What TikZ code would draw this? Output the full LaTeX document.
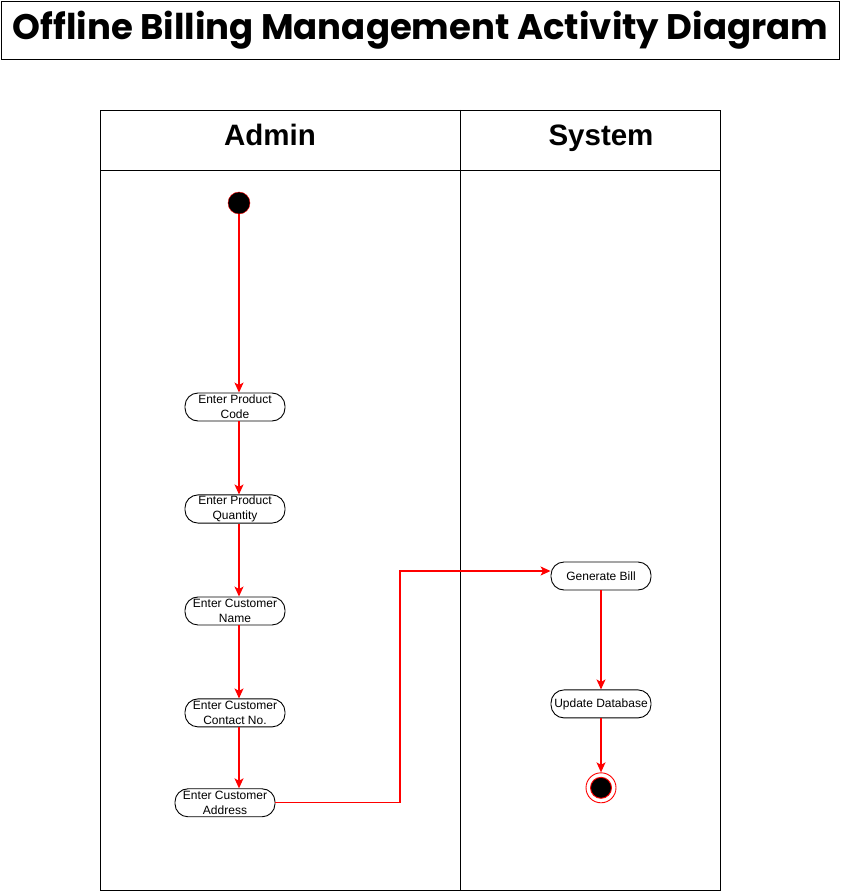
\documentclass[tikz,border=0pt]{standalone}
\usepackage{fontspec}
\setmainfont{Liberation Sans}
\newfontfamily\titlefont{Poppins}
\usetikzlibrary{arrows.meta,positioning}

\begin{document}
\begin{tikzpicture}[x=1pt,y=-1pt,
    act/.style={draw,line width=0.9pt,rounded corners=13pt,minimum width=100pt,minimum height=28pt,inner sep=1pt,align=center,font=\fontsize{12}{15}\selectfont},
    initial/.style={circle,draw=red,fill=black,minimum size=22pt,inner sep=0pt},
    final/.style={circle,draw=red,line width=0.9pt,minimum size=30pt,inner sep=0pt,
        path picture={\fill[black,draw=red] (path picture bounding box.center) circle (10.5pt);}},
    lane/.style={font=\fontsize{29.5}{34}\selectfont\bfseries,text height=21pt,text depth=6pt},
    flow/.style={draw=red,color=red,line width=1.3pt,-{Stealth[length=10pt,width=9pt,inset=2.5pt]}}]
    \useasboundingbox (0,0) rectangle (841,893);

    % title
    \node[draw,line width=1.5pt,minimum width=838pt,minimum height=58pt,inner sep=0pt] (title) at (420.5,30.5)
        {\titlefont\fontsize{35.5}{40}\selectfont\bfseries Offline Billing Management Activity Diagram};

    % swimlanes
    \draw (100,110) rectangle (720,890);
    \draw (100,170) -- (720,170);
    \draw (460,110) -- (460,890);
    \node[lane] (admin) at (270,138) {Admin};
    \node[lane] (system) at (601,138) {System};

    % admin side
    \node[initial] (start) at (239,203) {};
    \node[act] (code) at (235,407) {Enter Product\\Code};
    \node[act] (qty) [below=73pt of code] {Enter Product\\Quantity};
    \node[act] (name) [below=73pt of qty] {Enter Customer\\Name};
    \node[act] (contact) [below=73pt of name] {Enter Customer\\Contact No.};
    \node[act] (address) [below=61pt of contact,xshift=-10pt] {Enter Customer\\Address};

    % system side
    \node[act] (bill) at (601,576) {Generate Bill};
    \node[act] (update) [below=99pt of bill] {Update Database};
    \node[final] (stop) [below=54pt of update] {};

    \draw[flow] (start) -- (start |- code.north);
    \draw[flow] (code.south -| start) -- (qty.north -| start);
    \draw[flow] (qty.south -| start) -- (name.north -| start);
    \draw[flow] (name.south -| start) -- (contact.north -| start);
    \draw[flow] (contact.south -| start) -- (address.north -| start);
    \coordinate (jog) at (400,571);
    \draw[flow] (address.east) -| (jog) -- (jog -| bill.west);
    \draw[flow] (bill) -- (update);
    \draw[flow] (update) -- (stop);
\end{tikzpicture}
\end{document}
